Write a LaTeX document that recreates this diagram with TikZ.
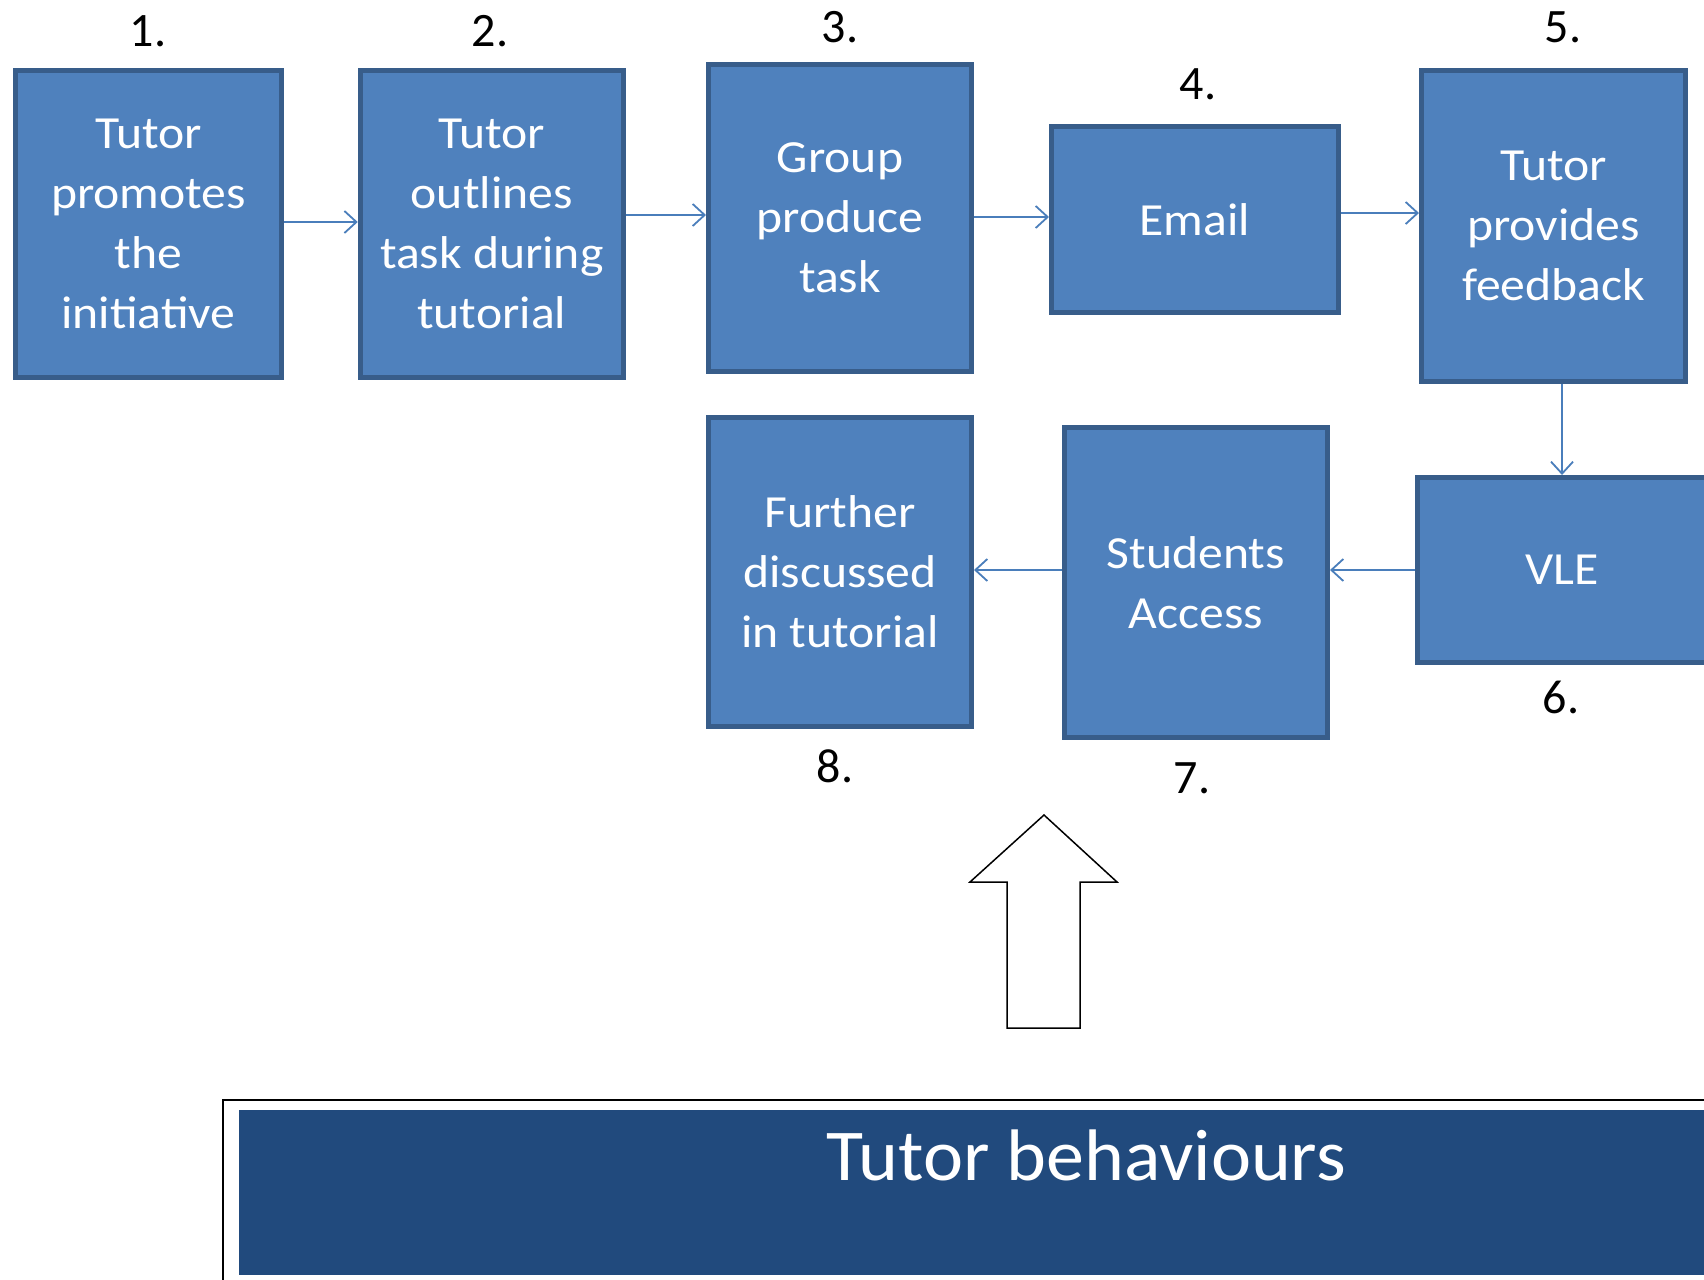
\documentclass[tikz,border=0pt]{standalone}
\usepackage{fontspec}
\setmainfont{Carlito}
\newfontfamily\boxface[FakeStretch=1.08]{Carlito}
\newfontfamily\titleface[FakeStretch=1.04]{Carlito}
\usetikzlibrary{arrows.meta}
\definecolor{boxfill}{HTML}{4F81BD}
\definecolor{boxline}{HTML}{385D8A}
\definecolor{connblue}{HTML}{4A7EBB}
\definecolor{banner}{HTML}{214A7D}
\tikzset{
  stepbox/.style={draw=boxline, fill=boxfill, line width=5pt, inner sep=0pt,
    text=white, align=center, font=\boxface\fontsize{46}{60}\selectfont},
  numlabel/.style={anchor=base, inner sep=0pt, font=\fontsize{48}{56}\selectfont},
  conn/.style={draw=connblue, line width=1.8pt, -{Straight Barb[length=12pt,width=22pt,line width=1.8pt]}},
}
\begin{document}
\begin{tikzpicture}[x=1pt, y=-1pt]
\clip (0,0) rectangle (1704,1279);
\fill[white] (0,0) rectangle (1704,1279);

% process steps
\node[stepbox, minimum width=266pt, minimum height=307pt] (b1) at (148.5,224) {Tutor\\promotes\\the\\initiative};
\node[stepbox, minimum width=263pt, minimum height=307pt] (b2) at (491.75,224) {Tutor\\outlines\\task during\\tutorial};
\node[stepbox, minimum width=263pt, minimum height=307pt] (b3) at (840,218) {Group\\produce\\task};
\node[stepbox, minimum width=287pt, minimum height=186pt] (b4) at (1195,219.5) {Email};
\node[stepbox, minimum width=264pt, minimum height=311pt] (b5) at (1553.5,226) {Tutor\\provides\\feedback};
\node[stepbox, minimum width=289pt, minimum height=185pt] (b6) at (1562,570) {VLE};
\node[stepbox, minimum width=263pt, minimum height=310pt] (b7) at (1196,582.5) {Students\\Access};
\node[stepbox, minimum width=263pt, minimum height=309pt] (b8) at (840,572) {Further\\discussed\\in tutorial};

% step numbers
\node[numlabel] (n1) at (148,47) {1.};
\node[numlabel] (n2) at (490,47) {2.};
\node[numlabel] (n3) at (840,43) {3.};
\node[numlabel] (n4) at (1198,100) {4.};
\node[numlabel] (n5) at (1563,43) {5.};
\node[numlabel] (n6) at (1561,713) {6.};
\node[numlabel] (n7) at (1192,793) {7.};
\node[numlabel] (n8) at (835,782) {8.};

% flow connectors
\draw[conn] (b1.east |- 0,222) -- (b2.west |- 0,222);
\draw[conn] (b2.east |- 0,215) -- (b3.west |- 0,215);
\draw[conn] (b3.east |- 0,217) -- (b4.west |- 0,217);
\draw[conn] (b4.east |- 0,213) -- (b5.west |- 0,213);
\draw[conn] (b5.south -| b6.north) -- (b6.north);
\draw[conn] (b6.west) -- (b6.west -| b7.east);
\draw[conn] (b7.west |- b6.west) -- (b8.east |- b6.west);

% hollow block arrow
\draw[black, line width=1.5pt, fill=white, line join=miter]
  (1044,815) -- (1117,882) -- (1080,882) -- (1080,1028) -- (1007,1028)
  -- (1007,882) -- (970,882) -- cycle;

% banner
\draw[black, line width=1.5pt] (223,1300) |- (1720,1100);
\fill[banner] (239,1110) rectangle (1720,1275);
\node[anchor=base, inner sep=0pt, text=white, font=\titleface\fontsize{73}{80}\selectfont] (title) at (1086,1180) {Tutor behaviours};
\end{tikzpicture}
\end{document}
